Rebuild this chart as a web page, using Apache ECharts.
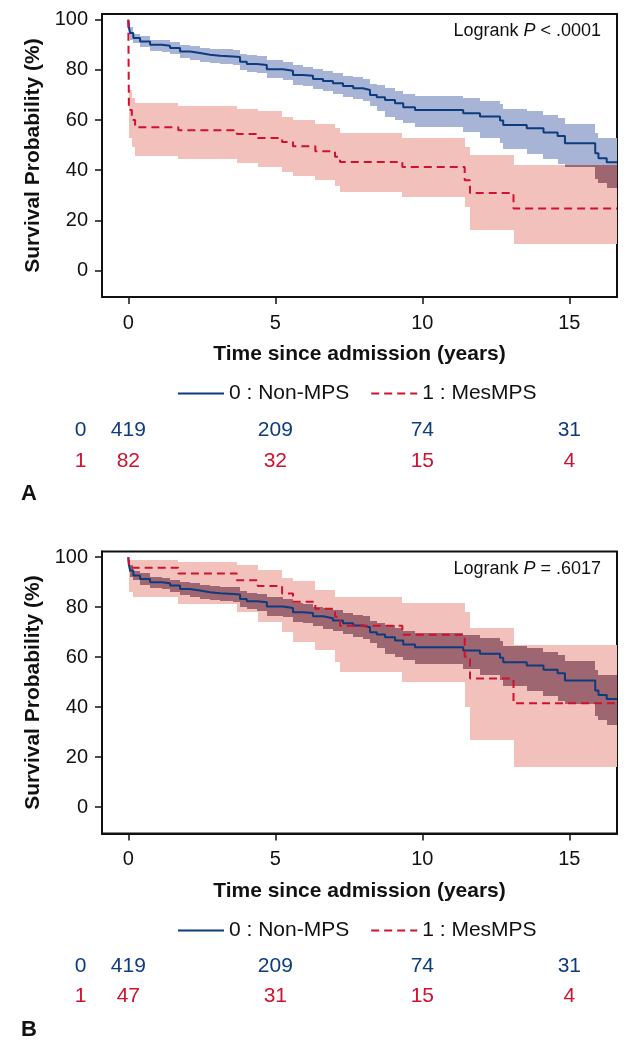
<!DOCTYPE html>
<html><head><meta charset="utf-8">
<script src="https://cdn.jsdelivr.net/npm/echarts@6/dist/echarts.min.js"></script>
<style>html,body{margin:0;padding:0;background:#fff}#c{width:634px;height:1050px}</style>
</head><body><div id="c"></div>
<script>
// ---------- DATA ----------
const groupNames = ['0 : Non-MPS', '1 : MesMPS'];
const xTicks = [0, 5, 10, 15];
const yTicks = [0, 20, 40, 60, 80, 100];

// Non-MPS (same group in both panels)
const nonTime  = [0,0.02,0.06,0.17,0.4,0.74,1.14,1.42,1.76,2.1,2.44,2.78,3.12,3.56,3.8,4.03,4.37,4.71,5.26,5.6,5.94,6.28,6.62,6.96,7.3,7.65,7.98,8.22,8.45,8.73,9.07,9.35,9.75,11.39,11.96,12.64,12.75,13.55,14.12,14.6,14.85,15.88,15.99,16.27,16.62];
const nonSurv  = [100,97,94.7,92.7,91.3,90,89.6,88.7,87.3,86.7,86,85.6,85.3,85.1,83.3,82.4,82,80.3,79.7,78,77.7,76.4,75.6,74.7,73.6,72.7,72,70,69.1,68,66.7,65.1,64,62.7,61.4,59.8,58,56.7,55,53.6,50.7,46.7,44.8,43.2,43.2];
const nonLower = [100,94,92,90.7,89,87.5,87.1,86.2,84.7,84,83.2,82.7,82.4,82.1,80.1,79.1,78.6,76.6,75.9,74.1,73.7,72.3,71.4,70.4,69.2,68.2,67.4,65.5,63.5,61.3,60,58.7,57.3,55.3,52.7,50.7,48.5,46.5,44.5,42.5,41.3,36.5,34.7,32.7,32.7];
const nonUpper = [100,99,97,94.4,93.5,92,91.8,91,90,89.5,88.9,88.5,88.2,88,86.5,85.8,85.4,84,83.3,81.8,81.3,80.2,79.5,78.7,77.7,77,76.4,74.5,73.8,72.8,71.7,70.4,69.6,68.7,67.6,66.3,64.6,63.6,62,60.8,58.5,55,53,52.7,52.7];

// MesMPS, panel A
const mesTimeA  = [0,0.02,0.12,0.23,1.7,3.69,4.4,5.23,5.6,6.36,7.03,7.2,9.32,11.44,11.62,13.1,16.62];
const mesSurvA  = [100,64,60,57.1,55.9,54.4,52.8,51.2,49.5,47.5,45.4,43.3,41.3,36,30.9,24.7,24.7];
const mesLowerA = [100,53,49.3,45.8,44.3,42.9,41.3,39.3,37.5,36,33.6,31.3,29.3,25.3,16.2,10.5,10.5];
const mesUpperA = [100,72,68.7,66.7,65.5,64.5,63.5,61.3,60,58.3,56.7,54.7,52.7,49.3,46,42,42];

// MesMPS, panel B
const mesTimeB  = [0,0.03,0.17,1.7,3.69,4.4,5.23,5.6,6.36,7.03,7.2,9.32,11.44,11.62,13.1,16.62];
const mesSurvB  = [100,95.8,95.8,93.5,90.8,88.5,85.5,82.2,79.4,76.2,72.6,69,60.2,51.5,41.5,41.5];
const mesLowerB = [100,86.1,84.1,81.1,78.1,74.1,70.1,66.2,62.8,58.2,54.2,50.2,40,26.8,16.2,16.2];
const mesUpperB = [100,98.8,98.8,97.9,96.8,94.8,91.5,90.5,87,84.2,84.2,81.5,78,71.6,64.8,64.8];

// Numbers at risk
const riskTimes = [0, 5, 10, 15];
const riskNonA = [419, 209, 74, 31];
const riskMesA = [82, 32, 15, 4];
const riskNonB = [419, 209, 74, 31];
const riskMesB = [47, 31, 15, 4];

const pTextA = ['Logrank ', 'P', ' < .0001'];
const pTextB = ['Logrank ', 'P', ' = .6017'];

// ---------- STYLE ----------
const FONT = "'Liberation Sans', Arial, Helvetica, sans-serif";
const BLUE = '#0d3b7f', RED = '#d0112f';
const BLUE_BAND = '#a8b4d6', RED_BAND = '#f2c1bc', OVER_BAND = '#9d6670';
const XMIN = -0.895, XMAX = 16.62, YMIN = -10.6, YMAX = 102.3;

function bandRects(t, lo, hi) {
  const out = [];
  for (let i = 0; i < t.length - 1; i++) out.push([t[i], t[i + 1], lo[i], hi[i]]);
  return out;
}
function valAt(t, v, x) {
  let r = v[0];
  for (let i = 0; i < t.length; i++) { if (t[i] <= x + 1e-9) r = v[i]; else break; }
  return r;
}
function overlapRects(tA, loA, hiA, tB, loB, hiB) {
  const ts = Array.from(new Set(tA.concat(tB))).sort((a, b) => a - b);
  const tEnd = Math.min(tA[tA.length - 1], tB[tB.length - 1]);
  const out = [];
  for (let k = 0; k < ts.length - 1; k++) {
    const t0 = ts[k], t1 = Math.min(ts[k + 1], tEnd);
    if (t1 <= t0) continue;
    const lo = Math.max(valAt(tA, loA, t0), valAt(tB, loB, t0));
    const hi = Math.min(valAt(tA, hiA, t0), valAt(tB, hiB, t0));
    if (hi > lo) out.push([t0, t1, lo, hi]);
  }
  return out;
}
function bandSeries(data, color, gi, z) {
  return {
    type: 'custom', xAxisIndex: gi, yAxisIndex: gi, silent: true, z: z,
    dimensions: ['t0', 't1', 'lo', 'hi'], encode: { x: [0, 1], y: [2, 3] },
    data: data,
    renderItem: function (params, api) {
      const p0 = api.coord([api.value(0), api.value(3)]);
      const p1 = api.coord([api.value(1), api.value(2)]);
      const x0 = Math.round(p0[0]), x1 = Math.round(p1[0]);
      const y0 = Math.round(p0[1]), y1 = Math.round(p1[1]);
      return { type: 'rect', shape: { x: x0, y: y0, width: x1 - x0, height: y1 - y0 }, style: { fill: color } };
    }
  };
}
function lineSeries(name, t, s, color, dashed, gi) {
  return {
    type: 'line', name: name, xAxisIndex: gi, yAxisIndex: gi, step: 'end', symbol: 'none', z: 5,
    data: t.map((x, i) => [x, s[i]]),
    lineStyle: { color: color, width: 2, type: dashed ? [8, 5] : 'solid' },
    itemStyle: { color: color }
  };
}
function riskSeries(vals, row, color, gi) {
  return {
    type: 'scatter', xAxisIndex: gi, yAxisIndex: gi, symbolSize: 1, silent: true,
    itemStyle: { color: 'rgba(0,0,0,0)' },
    data: riskTimes.map((t, i) => [t, row, vals[i]]),
    label: { show: true, position: 'inside', formatter: p => String(p.value[2]), color: color,
             textBorderWidth: 0, opacity: 1, fontSize: 21, fontFamily: FONT }
  };
}

const plotGrids = [
  { left: 102, top: 14, width: 515, height: 283 },
  { left: 102, top: 551.5, width: 515, height: 282 }
];
const riskGrids = [
  { left: 102, top: 414.7, width: 515, height: 61.4 },
  { left: 102, top: 951.7, width: 515, height: 60 }
];

const xAxes = [], yAxes = [];
for (let i = 0; i < 2; i++) {
  xAxes.push({
    type: 'value', gridIndex: i, min: XMIN, max: XMAX,
    name: 'Time since admission (years)', nameLocation: 'middle', nameGap: 47,
    nameTextStyle: { fontFamily: FONT, fontSize: 21, fontWeight: 'bold', color: '#111' },
    axisLine: { show: true, onZero: false, lineStyle: { color: '#111', width: 2 } },
    axisTick: { show: true, length: 7, inside: false, customValues: xTicks, lineStyle: { color: '#111', width: 1.5 } },
    axisLabel: { customValues: xTicks, margin: 16, fontFamily: FONT, fontSize: 20, color: '#111' },
    splitLine: { show: false }
  });
  yAxes.push({
    type: 'value', gridIndex: i, min: YMIN, max: YMAX,
    name: 'Survival Probability (%)', nameLocation: 'middle', nameGap: 55, nameRotate: 90,
    nameTextStyle: { fontFamily: FONT, fontSize: 21, fontWeight: 'bold', color: '#111' },
    axisLine: { show: true, onZero: false, lineStyle: { color: '#111', width: 2 } },
    axisTick: { show: true, length: 7, inside: false, customValues: yTicks, lineStyle: { color: '#111', width: 1.5 } },
    axisLabel: { customValues: yTicks, margin: 14, fontFamily: FONT, fontSize: 20, color: '#111' },
    splitLine: { show: false }
  });
}
for (let i = 0; i < 2; i++) {
  xAxes.push({ type: 'value', gridIndex: 2 + i, min: XMIN, max: XMAX, show: false });
  yAxes.push({
    type: 'category', gridIndex: 2 + i, data: ['1', '0'],
    axisLine: { show: false }, axisTick: { show: false }, splitLine: { show: false },
    axisLabel: {
      margin: 15.5, fontFamily: FONT, fontSize: 21,
      formatter: v => (v === '0' ? '{b|0}' : '{r|1}'),
      rich: { b: { color: BLUE, fontSize: 21, fontFamily: FONT }, r: { color: RED, fontSize: 21, fontFamily: FONT } }
    }
  });
}

const series = [
  // panel A
  bandSeries(bandRects(mesTimeA, mesLowerA, mesUpperA), RED_BAND, 0, 1),
  bandSeries(bandRects(nonTime, nonLower, nonUpper), BLUE_BAND, 0, 2),
  bandSeries(overlapRects(nonTime, nonLower, nonUpper, mesTimeA, mesLowerA, mesUpperA), OVER_BAND, 0, 3),
  lineSeries(groupNames[0], nonTime, nonSurv, BLUE, false, 0),
  lineSeries(groupNames[1], mesTimeA, mesSurvA, RED, true, 0),
  // panel B
  bandSeries(bandRects(mesTimeB, mesLowerB, mesUpperB), RED_BAND, 1, 1),
  bandSeries(bandRects(nonTime, nonLower, nonUpper), BLUE_BAND, 1, 2),
  bandSeries(overlapRects(nonTime, nonLower, nonUpper, mesTimeB, mesLowerB, mesUpperB), OVER_BAND, 1, 3),
  lineSeries(groupNames[0], nonTime, nonSurv, BLUE, false, 1),
  lineSeries(groupNames[1], mesTimeB, mesSurvB, RED, true, 1),
  // risk tables
  riskSeries(riskNonA, 1, BLUE, 2),
  riskSeries(riskMesA, 0, RED, 2),
  riskSeries(riskNonB, 1, BLUE, 3),
  riskSeries(riskMesB, 0, RED, 3)
];

function pTitle(parts, top) {
  return {
    text: '{n|' + parts[0] + '}{i|' + parts[1] + '}{n|' + parts[2] + '}',
    right: 33, top: top, padding: 0,
    textStyle: { fontWeight: 'normal', fontSize: 18, fontFamily: FONT, rich: {
      n: { fontFamily: FONT, fontSize: 18, fontWeight: 'normal', color: '#111' },
      i: { fontFamily: FONT, fontSize: 18, fontWeight: 'normal', fontStyle: 'italic', color: '#111' }
    } }
  };
}
const legendCommon = {
  data: groupNames, left: 177, padding: 0, itemWidth: 46, itemHeight: 14, itemGap: 21, icon: 'inherit',
  itemStyle: { opacity: 0, borderWidth: 0 },
  textStyle: { fontFamily: FONT, fontSize: 21, color: '#111' }, selectedMode: false
};

const option = {
  backgroundColor: '#fff',
  animation: false,
  grid: plotGrids.map(g => Object.assign({ show: true, borderColor: '#111', borderWidth: 2, backgroundColor: 'transparent' }, g))
        .concat(riskGrids),
  xAxis: xAxes,
  yAxis: yAxes,
  title: [
    pTitle(pTextA, 22),
    pTitle(pTextB, 560),
    { text: 'A', left: 21, top: 483, padding: 0, textStyle: { fontFamily: FONT, fontSize: 22, fontWeight: 'bold', color: '#111' } },
    { text: 'B', left: 21, top: 1019, padding: 0, textStyle: { fontFamily: FONT, fontSize: 22, fontWeight: 'bold', color: '#111' } }
  ],
  legend: [
    Object.assign({ top: 383 }, legendCommon),
    Object.assign({ top: 920 }, legendCommon)
  ],
  series: series
};

const chart = echarts.init(document.getElementById('c'), null, { renderer: 'canvas' });
chart.setOption(option);
</script>
</body></html>
